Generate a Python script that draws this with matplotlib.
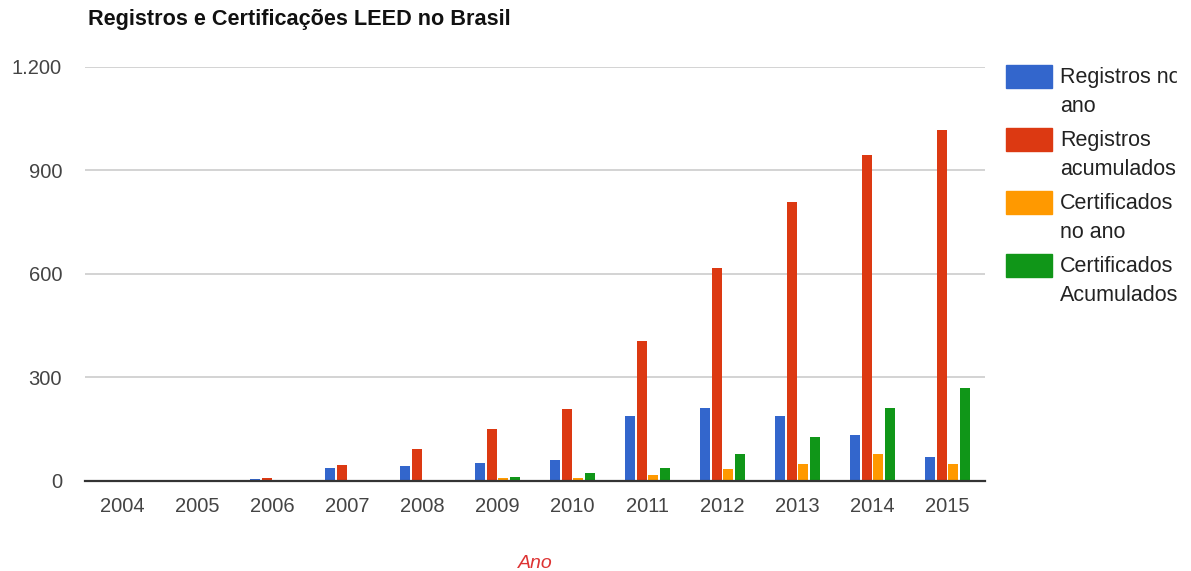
import matplotlib.pyplot as plt
import numpy as np
from matplotlib.patches import Rectangle

plt.rcParams['font.family'] = ['Liberation Sans', 'DejaVu Sans']

years = ["2004", "2005", "2006", "2007", "2008", "2009", "2010",
         "2011", "2012", "2013", "2014", "2015"]
registros_ano = [0, 1, 5, 36, 43, 51, 60, 187, 210, 186, 133, 68]
registros_acum = [0, 1, 7, 45, 90, 150, 207, 405, 617, 808, 945, 1018]
certificados_ano = [0, 0, 0, 0, 2, 6, 7, 15, 34, 48, 78, 48]
certificados_acum = [0, 0, 0, 0, 2, 9, 21, 35, 78, 126, 210, 268]

series = [
    ("Registros no\nano", registros_ano, "#3366cc"),
    ("Registros\nacumulados", registros_acum, "#dc3912"),
    ("Certificados\nno ano", certificados_ano, "#ff9900"),
    ("Certificados\nAcumulados", certificados_acum, "#109618"),
]

W, H = 1191, 571
fig = plt.figure(figsize=(W / 100, H / 100), dpi=100)
ax = fig.add_axes([85 / W, 1 - 480.5 / H, 900 / W, (480.5 - 67) / H])

x = np.arange(len(years))
bw = 0.133
step = 0.153
for i, (label, vals, color) in enumerate(series):
    ax.bar(x + (i - 1.5) * step, vals, width=bw, color=color, zorder=3)

ax.set_xlim(-0.5, len(years) - 0.5)
ax.set_ylim(0, 1200)
ax.set_yticks([0, 300, 600, 900, 1200])
ax.set_yticklabels(["0", "300", "600", "900", "1.200"])
ax.set_xticks(x)
ax.set_xticklabels(years)
ax.tick_params(axis='both', length=0, labelsize=14.5, colors="#444444")
ax.tick_params(axis='y', pad=16.5)
ax.tick_params(axis='x', pad=12)
ax.grid(axis='y', color="#cccccc", linewidth=1.2, zorder=0)
for s in ["top", "right", "left"]:
    ax.spines[s].set_visible(False)
ax.spines["bottom"].set_color("#333333")
ax.spines["bottom"].set_linewidth(1.6)
ax.spines["bottom"].set_zorder(4)

fig.text(88 / W, 1 - 20 / H, "Registros e Certificações LEED no Brasil",
         fontsize=15.6, fontweight='bold', color="#111111", va='center', ha='left')
fig.text(535 / W, 1 - 563 / H, "Ano", fontsize=14, style='italic',
         color="#dd3333", ha='center', va='center')

# legend drawn by hand
for i, (label, vals, color) in enumerate(series):
    top = 65 + i * 63
    fig.patches.append(Rectangle((1006 / W, 1 - (top + 23) / H), 46 / W, 23 / H,
                                 transform=fig.transFigure, color=color))
    fig.text(1060 / W, 1 - (top + 2) / H, label, fontsize=15.5, color="#222222",
             ha='left', va='top', linespacing=1.5)

# the original legend is cut off at the right edge
fig.patches.append(Rectangle((1177 / W, 1 - 95 / H), 14 / W, 40 / H,
                             transform=fig.transFigure, color="white", zorder=10))

fig.savefig("out.png", dpi=100)
